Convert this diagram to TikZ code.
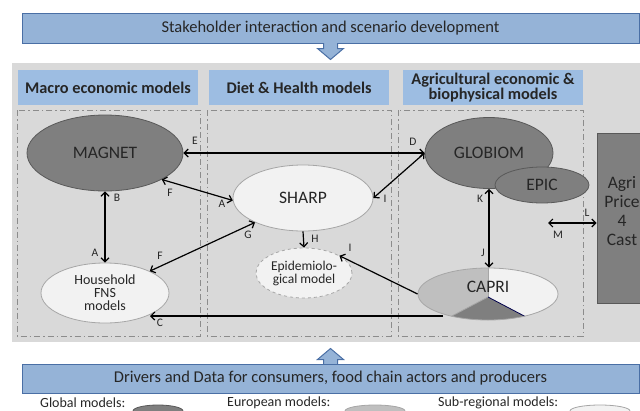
\documentclass[tikz,border=0pt]{standalone}
\usepackage{fontspec}
\setmainfont{Carlito}
\usetikzlibrary{arrows.meta,shapes.geometric}
\definecolor{bannerblue}{HTML}{95B3D7}
\definecolor{bannerline}{HTML}{4A6FA5}
\definecolor{headblue}{HTML}{9DBDE2}
\definecolor{panelgray}{HTML}{D9D9D9}
\definecolor{darkg}{HTML}{7F7F7F}
\definecolor{darkline}{HTML}{595959}
\definecolor{midg}{HTML}{BFBFBF}
\definecolor{lightg}{HTML}{F2F2F2}
\definecolor{edgeg}{HTML}{A6A6A6}
\definecolor{dashg}{HTML}{8C8C8C}
\definecolor{txt}{HTML}{262626}
\begin{document}
\begin{tikzpicture}[x=1pt,y=-1pt,
  every node/.style={text=txt},
  banner/.style={draw=bannerline,fill=bannerblue,line width=1pt,inner sep=0pt,font=\fontsize{16.5}{17}\selectfont},
  header/.style={fill=headblue,inner sep=0pt,minimum width=180,minimum height=35,align=center,font=\bfseries\fontsize{16.3}{13.5}\selectfont},
  groupbox/.style={draw=dashg,line width=1pt,dash pattern=on 6pt off 3pt on 1.5pt off 3pt},
  bigmodel/.style={ellipse,draw=darkline,fill=darkg,line width=0.8pt,inner sep=0pt,font=\fontsize{17.5}{17}\selectfont},
  smallmodel/.style={ellipse,draw=edgeg,fill=lightg,line width=0.8pt,inner sep=0pt,align=center},
  lbl/.style={inner sep=0pt,font=\fontsize{11.5}{11.5}\selectfont},
  conn/.style={line width=1.2pt,{Straight Barb[length=4pt,width=8pt]}-{Straight Barb[length=4pt,width=8pt]}},
  oneway/.style={line width=1.2pt,-{Straight Barb[length=4pt,width=8pt]}},
  blockarrow/.style={draw=bannerline,fill=bannerblue,line width=1pt,line join=miter},
  legtext/.style={inner sep=0pt,anchor=west,font=\fontsize{14}{14}\selectfont}
]
\useasboundingbox (0,0) rectangle (640,410);
\clip (0,0) rectangle (640,410);

% top banner and arrow
\node[banner,minimum width=617,minimum height=30] (top) at (330.5,28) {Stakeholder interaction and scenario development};
\draw[blockarrow] (323.5,43) -- (323.5,48.5) -- (317.5,48.5) -- (330.5,59.5) -- (343.5,48.5) -- (337.5,48.5) -- (337.5,43);

% gray panel
\fill[panelgray] (12,63) rectangle (640,342);

% headers
\node[header] (h1) at (108,87.5) {Macro economic models};
\node[header] (h2) at (299,87.5) {Diet \& Health models};
\node[header] (h3) at (493,87.5) {Agricultural economic \&\\biophysical models};

% group boxes
\draw[groupbox] (17,110) rectangle (200,336);
\draw[groupbox] (207,110) rectangle (391,336);
\draw[groupbox] (398,110) rectangle (583,336);

% models
\node[bigmodel,minimum width=156,minimum height=76] (magnet) at (105,153) {MAGNET};
\node[bigmodel,minimum width=128,minimum height=71] (globiom) at (489,153) {GLOBIOM};
\node[bigmodel,minimum width=94,minimum height=36] (epic) at (542,185) {EPIC};
\node[smallmodel,minimum width=140,minimum height=66,font=\fontsize{17.5}{17}\selectfont] (sharp) at (303,198) {SHARP};
\node[smallmodel,dashed,minimum width=96,minimum height=50,font=\fontsize{13.5}{13}\selectfont] (epi) at (304,273) {Epidemiolo-\\gical model};
\node[smallmodel,minimum width=128,minimum height=60,font=\fontsize{14}{13}\selectfont] (hh) at (105,293) {Household\\FNS\\models};
\node[draw=darkline,fill=darkg,line width=0.8pt,minimum width=56,minimum height=170,inner sep=0pt] (agri) at (625,218) {};
\node[inner sep=0pt,align=center,font=\fontsize{17.5}{19}\selectfont] (agritext) at (622,211) {Agri\\Price\\4\\Cast};

% CAPRI pie
\begin{scope}
  \clip (488,294) ellipse [x radius=70,y radius=26];
  \fill[lightg] (410,260) rectangle (570,330);
  \fill[midg] (488,260) -- (488,297) -- (412,337) -- (410,337) -- (410,260) -- cycle;
  \fill[darkg] (488,297) -- (412,337) -- (568,339) -- cycle;
  \draw[edgeg,line width=0.8pt] (488,266) -- (488,297);
  \draw[edgeg,line width=0.8pt] (488,297) -- (412,337);
  \draw[black!70!blue,line width=0.8pt] (488,297) -- (568,339);
\end{scope}
\node[ellipse,draw=edgeg,line width=0.8pt,inner sep=0pt,minimum width=140,minimum height=52] (capri) at (488,294) {};
\node[inner sep=0pt,font=\fontsize{17.5}{17}\selectfont] (capritext) at (488,287) {CAPRI};

% connectors
\draw[conn] (magnet.east) -- (globiom.west);
\draw[conn] (magnet.-25) -- (sharp.182);
\draw[conn] (magnet.south) -- (hh.north);
\draw[conn] (hh.26) -- (sharp.207);
\draw[oneway] (sharp.south) -- (epi.north);
\draw[conn] (globiom.west) -- (sharp.east);
\draw[oneway] (capri.west) -- (epi.26);
\coordinate (cstart) at (443,316);
\coordinate (cend) at (150,316);
\draw[oneway] (cstart) -- (cend);
\draw[conn] (globiom.south) -- (globiom.south |- capri.north);
\coordinate (mend) at (548,223);
\draw[conn] (mend) -- (agri.west |- mend);

% labels
\node[lbl] (lE) at (195,141) {E};
\node[lbl] (lD) at (413,142) {D};
\node[lbl] (lF1) at (170,193) {F};
\node[lbl] (lA1) at (222,204) {A};
\node[lbl] (lB) at (117,198) {B};
\node[lbl] (lA2) at (95,253) {A};
\node[lbl] (lF2) at (160,256) {F};
\node[lbl] (lG) at (248,235) {G};
\node[lbl] (lH) at (315,239) {H};
\node[lbl] (lI1) at (385,199) {I};
\node[lbl] (lI2) at (350,248) {I};
\node[lbl] (lC) at (160,323) {C};
\node[lbl] (lK) at (480,199) {K};
\node[lbl] (lJ) at (483,253) {J};
\node[lbl] (lL) at (587,213) {L};
\node[lbl] (lM) at (558,235) {M};

% bottom arrow and banner
\draw[blockarrow] (323.5,365) -- (323.5,359.5) -- (317.5,359.5) -- (330.5,348.5) -- (343.5,359.5) -- (337.5,359.5) -- (337.5,365);
\node[banner,minimum width=617,minimum height=29] (bottom) at (330.5,378.5) {Drivers and Data for consumers, food chain actors and producers};

% legend
\node[legtext] (lg1) at (40,403) {Global models:};
\node[ellipse,draw=darkline,fill=darkg,line width=0.8pt,minimum width=50,minimum height=12,inner sep=0pt] (le1) at (158,411) {};
\node[legtext] (lg2) at (227,403) {European models:};
\node[ellipse,draw=edgeg,fill=midg,line width=0.8pt,minimum width=60,minimum height=12,inner sep=0pt] (le2) at (375,411) {};
\node[legtext] (lg3) at (438,403) {Sub-regional models:};
\node[ellipse,draw=edgeg,fill=lightg,line width=0.8pt,minimum width=60,minimum height=12,inner sep=0pt] (le3) at (600,411) {};
\end{tikzpicture}
\end{document}
